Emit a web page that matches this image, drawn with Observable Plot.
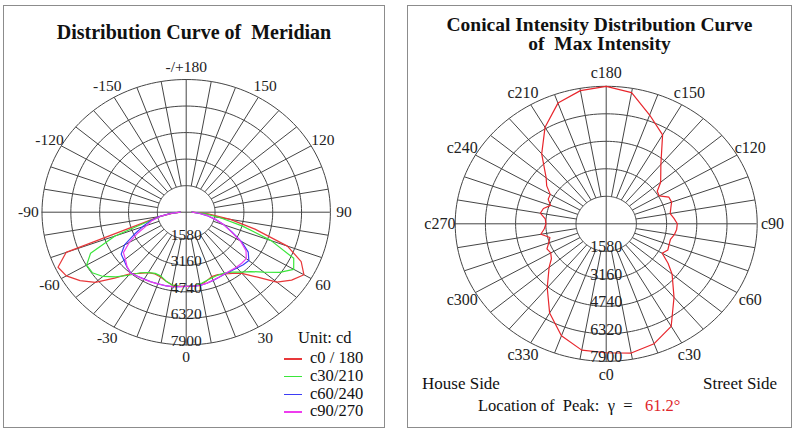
<!DOCTYPE html>
<html><head><meta charset="utf-8">
<script src="https://cdn.jsdelivr.net/npm/d3@7"></script>
<script src="https://cdn.jsdelivr.net/npm/@observablehq/plot@0.6"></script>
<style>
body{margin:0;background:#fff;font-family:"Liberation Serif","Times New Roman",serif;color:#111;}
#wrap{position:relative;width:800px;height:430px;overflow:hidden;background:#fff}
.panel{position:absolute;border:1.5px solid #8c8c8c;box-sizing:border-box}
.abs{position:absolute;white-space:pre;line-height:1}
.title{font-weight:bold;font-size:20px;text-align:center}
.chart{position:absolute;top:0}
.sw{position:absolute;height:1.5px}
</style></head>
<body>
<div id="wrap">
  <div class="panel" style="left:3px;top:5px;width:382px;height:423px"></div>
  <div class="panel" style="left:407px;top:5px;width:385px;height:423px"></div>
  <div id="left" class="chart" style="left:0"></div>
  <div id="right" class="chart" style="left:400px"></div>
  <div class="abs title" style="left:3px;width:382px;top:22px">Distribution Curve of  Meridian</div>
  <div class="abs title" style="left:407px;width:385px;top:15px;font-size:19.5px">Conical Intensity Distribution Curve</div>
  <div class="abs title" style="left:407px;width:385px;top:34px;font-size:19.5px">of  Max Intensity</div>
  <div id="legend"></div>
  <div class="abs" style="left:422px;top:375px;font-size:17px">House Side</div>
  <div class="abs" style="left:703px;top:375px;font-size:17px">Street Side</div>
  <div id="peak" class="abs" style="left:478px;top:398px;font-size:16.5px"></div>
</div>
<script>
// ---------- data ----------
const ringValues = [1580, 3160, 4740, 6320, 7900];
const ringLabels = ["1580", "3160", "4740", "6320", "7900"];
const tickAngles = [0, 30, 60, 90, 120, 150, 180, 210, 240, 270, 300, 330];
const meridianTickLabels = ["0", "30", "60", "90", "120", "150", "-/+180", "-150", "-120", "-90", "-60", "-30"];
const conicalTickLabels = ["c0", "c30", "c60", "c90", "c120", "c150", "c180", "c210", "c240", "c270", "c300", "c330"];

const gammaAngles = [-90,-85,-80,-75,-70,-65,-60,-55,-50,-45,-40,-35,-30,-25,-20,-15,-10,-5,0,5,10,15,20,25,30,35,40,45,50,55,60,65,70,75,80,85,90];
const c0_180  = [300,800,1500,2400,7000,7750,7580,7100,6500,5550,4780,4450,4150,4050,4100,4250,4400,4430,4420,4420,4400,4250,4080,4100,4250,4450,4750,5450,6480,7050,7450,6950,5900,3900,2450,1200,300];
const c30_210 = [300,800,1400,2200,4150,5780,6300,6280,5950,5450,4900,4400,4150,4020,4050,4250,4400,4430,4420,4420,4350,4230,4150,4130,4180,4350,4650,5000,5550,6250,6800,6500,4950,3200,1900,1000,300];
const c60_240 = [320,850,1500,2050,2550,3150,3900,4350,4450,4600,4720,4650,4600,4570,4540,4520,4500,4450,4420,4420,4420,4380,4320,4270,4240,4270,4330,4420,4480,4150,3500,2750,2200,1650,1150,700,320];
const c90_270 = [320,800,1450,1950,2290,2920,3600,4200,4350,4580,4740,4660,4620,4580,4540,4520,4500,4450,4420,4420,4420,4370,4310,4260,4230,4240,4270,4300,4300,4000,3430,2700,2200,1650,1200,700,320];
const seriesNames = ["c0 / 180", "c30/210", "c60/240", "c90/270"];
const seriesColors = ["#e8383a", "#3ae63a", "#3d3df5", "#ee3cee"];

const conicalC = [0,10,20,30,40,50,55,60,65,70,75,80,85,90,95,100,105,110,115,120,125,130,140,150,160,170,180,190,200,210,220,230,235,240,245,250,255,260,265,270,275,280,285,290,295,300,305,310,320,330,340,350];
const conicalI = [7410,7540,7330,6800,5520,4500,3950,3380,3560,3500,3480,3620,3700,3720,3560,3400,3500,3640,3620,3200,3260,3720,4450,5900,6650,7650,7900,7770,7380,6400,5250,4100,3800,3380,3350,3100,3400,3500,3200,3150,3250,3470,3050,3200,3420,3350,3500,3900,4800,5920,6850,7370];
const peakLabel = "61.2°";

// ---------- helpers ----------
const FONT = "Liberation Serif";
const GRID = "#454545";
const rad = a => a * Math.PI / 180;
const px = (r, a) => r * Math.sin(rad(a));
const py = (r, a) => -r * Math.cos(rad(a));
const rMin = ringValues[0], rMax = ringValues[ringValues.length - 1];

function gridMarks(tickLabels, labelR, fontSize) {
  const ringPts = ringValues.flatMap(r => d3.range(0, 361, 2).map(a => ({r, a})));
  const spokes = d3.range(0, 360, 10).filter(a => a % 90 !== 0);
  return [
    Plot.line(ringPts, {x: d => px(d.r, d.a), y: d => py(d.r, d.a), z: "r", stroke: GRID, strokeWidth: 1}),
    Plot.link(spokes, {x1: a => px(rMin, a), y1: a => py(rMin, a), x2: a => px(rMax, a), y2: a => py(rMax, a), stroke: GRID, strokeWidth: 1}),
    Plot.ruleX([0], {y1: -rMax, y2: rMax, stroke: GRID, strokeWidth: 1}),
    Plot.ruleY([0], {x1: -rMax, x2: rMax, stroke: GRID, strokeWidth: 1}),
    Plot.text(tickAngles, {x: a => px(labelR, a), y: a => py(labelR, a), text: (a, i) => tickLabels[i],
      fontSize, fontFamily: FONT, fill: "#222", textAnchor: "middle", lineAnchor: "middle"})
  ];
}
function ringLabelMark(fontSize) {
  return Plot.text(ringValues, {x: 0, y: r => -r, text: (r, i) => ringLabels[i], fontSize, fontFamily: FONT,
    fill: "#222", textAnchor: "middle", lineAnchor: "bottom", dy: 1});
}

// ---------- left: meridian ----------
const series = [c0_180, c30_210, c60_240, c90_270];
const meridian = series.flatMap((vals, k) => gammaAngles.map((g, i) => ({g, v: vals[i], s: seriesNames[k]})));
const left = Plot.plot({
  width: 400, height: 430,
  style: {background: "transparent", fontFamily: FONT, overflow: "visible"},
  x: {domain: [-7900, 7900], range: [41.5, 329.9], axis: null},
  y: {domain: [-7900, 7900], range: [344.4, 79], axis: null},
  color: {domain: seriesNames, range: seriesColors},
  marks: [
    ...gridMarks(meridianTickLabels, 8650, 15.5),
    Plot.line(meridian, {x: d => px(d.v, d.g), y: d => py(d.v, d.g), z: "s", stroke: "s", strokeWidth: 1.2}),
    ringLabelMark(15.5)
  ]
});
document.getElementById("left").append(left);

// ---------- right: conical ----------
const conical = conicalC.map((c, i) => ({c, v: conicalI[i]}));
const right = Plot.plot({
  width: 400, height: 430,
  style: {background: "transparent", fontFamily: FONT, overflow: "visible"},
  x: {domain: [-7900, 7900], range: [54.7, 356.7], axis: null},
  y: {domain: [-7900, 7900], range: [360.8, 85.8], axis: null},
  marks: [
    ...gridMarks(conicalTickLabels, 8700, 16),
    Plot.line(conical, {x: d => px(d.v, d.c), y: d => py(d.v, d.c), stroke: "#e8262c", strokeWidth: 1.2, curve: "linear-closed"}),
    ringLabelMark(16)
  ]
});
document.getElementById("right").append(right);

// ---------- legend ----------
const lg = document.getElementById("legend");
lg.innerHTML = `<div class="abs" style="left:298px;top:330px;font-size:16.5px">Unit: cd</div>` +
  seriesNames.map((n, i) => {
    const t = 350 + i * 17.8;
    return `<div class="sw" style="left:284px;top:${t + 8}px;width:18px;background:${seriesColors[i]}"></div>` +
      `<div class="abs" style="left:310px;top:${t}px;font-size:16.5px">${n}</div>`;
  }).join("");

document.getElementById("peak").innerHTML = `Location of  Peak:  γ  =   <span style="color:#e0262c">${peakLabel}</span>`;
</script>
</body></html>
